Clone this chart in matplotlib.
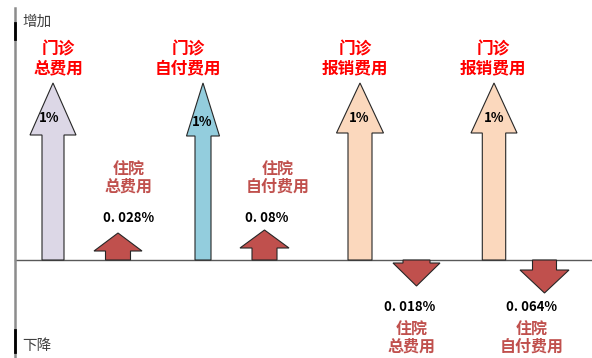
import matplotlib
matplotlib.use("Agg")
import matplotlib.pyplot as plt
from matplotlib.patches import Polygon

plt.rcParams['font.family'] = ['Noto Sans CJK SC', 'DejaVu Sans']

# data
out_labels = ["门诊\n总费用", "门诊\n自付费用", "门诊\n报销费用", "门诊\n报销费用"]
out_values = [1, 1, 1, 1]  # % change
in_labels = ["住院\n总费用", "住院\n自付费用", "住院\n总费用", "住院\n自付费用"]
in_values = [0.028, 0.08, -0.018, -0.064]  # % change
in_texts = ["0. 028%", "0. 08%", "0. 018%", "0. 064%"]

# layout (pixel space of the 592x358 canvas)
base_y = 260
out_x = [53, 203, 360, 494]
out_len = [177, 177, 177, 177]
out_head = [52, 53, 50, 50]
out_hw = [23, 16.5, 23.5, 23]
out_sw = [11, 8, 12, 11.7]
out_colors = ["#dcd7e6", "#93cddd", "#fbd8bd", "#fbd8bd"]
out_label_x = [58, 188, 355, 493]
out_pct_xy = [(49, 118), (202, 122), (359, 118), (494, 118)]

in_x = [118, 264.5, 416.5, 544.5]
in_len = [27, 30, 26, 33]
in_head = [18, 18, 23, 23]
in_hw = [24, 24.5, 23.5, 24.5]
in_sw = [12.5, 12.5, 13.5, 12]
in_color = "#c0504d"
in_label_x = [129, 278, 412, 532]
in_num_x = [129, 267, 410, 532]

fig = plt.figure(figsize=(5.92, 3.58), dpi=100)
ax = fig.add_axes([0, 0, 1, 1])
ax.set_xlim(0, 592)
ax.set_ylim(358, 0)
ax.axis("off")


def arrow(cx, value, length, head, hw, sw, color):
    d = 1 if value > 0 else -1
    tip = base_y - d * length
    hb = tip + d * head
    pts = [(cx - sw, base_y), (cx - sw, hb), (cx - hw, hb), (cx, tip),
           (cx + hw, hb), (cx + sw, hb), (cx + sw, base_y)]
    ax.add_patch(Polygon(pts, closed=True, facecolor=color,
                         edgecolor="#262626", linewidth=0.8, zorder=3))


# axes lines
ax.plot([15, 592], [base_y, base_y], color="#595959", lw=1, zorder=2)
ax.plot([15, 15], [8, 358], color="#8c8c8c", lw=1.8, zorder=2)
ax.plot([15, 15], [23, 39], color="black", lw=2, zorder=2)
ax.plot([15, 15], [330, 352], color="black", lw=2, zorder=2)
ax.text(22, 22, "增加", fontsize=10.5, color="#404040", va="center", ha="left")
ax.text(22, 346, "下降", fontsize=10.5, color="#404040", va="center", ha="left")

for i in range(4):
    arrow(out_x[i], out_values[i], out_len[i], out_head[i], out_hw[i], out_sw[i], out_colors[i])
    ax.text(out_label_x[i], 58.5, out_labels[i], fontsize=12, fontweight="bold",
            color="#ff0000", ha="center", va="center", linespacing=1.05)
    px, py = out_pct_xy[i]
    ax.text(px, py, f"{out_values[i]}%", fontsize=9.5, fontweight="bold",
            color="black", ha="center", va="center", zorder=4)

for i in range(4):
    arrow(in_x[i], in_values[i], in_len[i], in_head[i], in_hw[i], in_sw[i], in_color)
    if in_values[i] > 0:
        label_y, num_y = 178.5, 218
    else:
        label_y, num_y = 338, 307
    ax.text(in_label_x[i], label_y, in_labels[i], fontsize=11.5, fontweight="bold",
            color=in_color, ha="center", va="center", linespacing=1.05)
    ax.text(in_num_x[i], num_y, in_texts[i], fontsize=9.5, fontweight="bold",
            color="black", ha="center", va="center")

fig.savefig("out.png", dpi=100)
